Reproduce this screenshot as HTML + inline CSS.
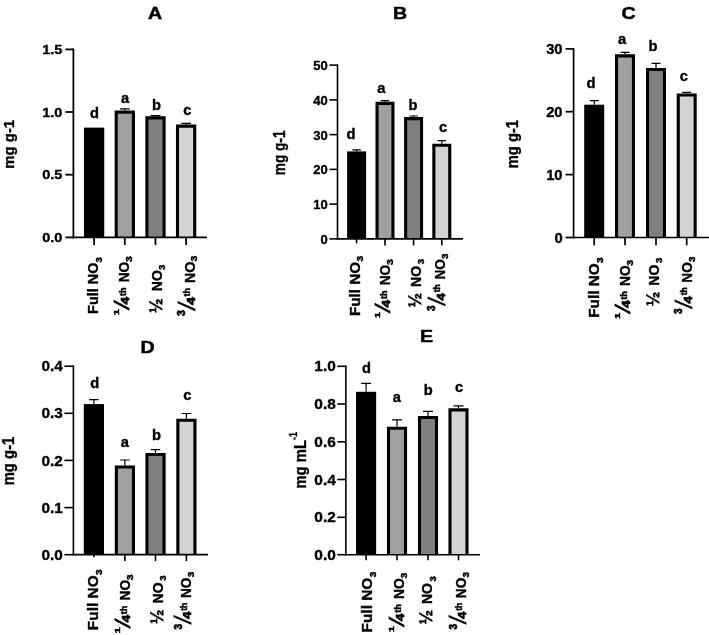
<!DOCTYPE html>
<html lang="en">
<head>
<meta charset="utf-8">
<title>Figure: NO3 treatments A-E</title>
<style>
html,body{margin:0;padding:0;background:#fff;}
body{width:709px;height:635px;overflow:hidden;}
svg{display:block;}
svg text{font-family:"Liberation Sans", Arial, Helvetica, sans-serif;font-weight:700;fill:#000;stroke:#000;stroke-width:0.35px;}
svg text.t{stroke-width:0.5px;}
svg text.s{stroke-width:0.45px;}
svg text.m{stroke-width:0.7px;}
svg text.f{stroke-width:0.85px;}
</style>
</head>
<body>
<svg width="709" height="635" viewBox="0 0 709 635">
<rect x="-20" y="-20" width="760" height="690" fill="#ffffff"/>
<g>
<rect x="83.95" y="127.60" width="20.30" height="109.80" fill="#000"/>
<text transform="translate(94.60 117.90) scale(1.050 1)" font-size="14" text-anchor="middle">d</text>
<line x1="94.10" y1="237.40" x2="94.10" y2="245.00" stroke="#000" stroke-width="1.8"/>
<path d="M124.80 110.60V108.80M119.90 108.80H129.70" stroke="#000" stroke-width="1.2" fill="none"/>
<rect x="116.20" y="112.15" width="17.20" height="125.25" fill="#a0a0a0"/>
<path d="M116.20 237.40V112.15H133.40V237.40" fill="none" stroke="#000" stroke-width="3.1"/>
<text transform="translate(125.00 103.20) scale(1.050 1)" font-size="14" text-anchor="middle">a</text>
<line x1="124.80" y1="237.40" x2="124.80" y2="245.00" stroke="#000" stroke-width="1.8"/>
<path d="M155.50 116.30V115.70M150.60 115.70H160.40" stroke="#000" stroke-width="1.2" fill="none"/>
<rect x="146.90" y="117.85" width="17.20" height="119.55" fill="#808080"/>
<path d="M146.90 237.40V117.85H164.10V237.40" fill="none" stroke="#000" stroke-width="3.1"/>
<text transform="translate(156.60 110.20) scale(1.050 1)" font-size="14" text-anchor="middle">b</text>
<line x1="155.50" y1="237.40" x2="155.50" y2="245.00" stroke="#000" stroke-width="1.8"/>
<path d="M186.10 124.60V123.30M181.20 123.30H191.00" stroke="#000" stroke-width="1.2" fill="none"/>
<rect x="177.50" y="126.15" width="17.20" height="111.25" fill="#d3d3d3"/>
<path d="M177.50 237.40V126.15H194.70V237.40" fill="none" stroke="#000" stroke-width="3.1"/>
<text transform="translate(187.40 114.70) scale(1.050 1)" font-size="14" text-anchor="middle">c</text>
<line x1="186.10" y1="237.40" x2="186.10" y2="245.00" stroke="#000" stroke-width="1.8"/>
<line x1="73.40" y1="48.50" x2="73.40" y2="238.30" stroke="#000" stroke-width="1.8"/>
<line x1="72.50" y1="237.40" x2="207.00" y2="237.40" stroke="#000" stroke-width="1.8"/>
<line x1="65.40" y1="237.40" x2="73.40" y2="237.40" stroke="#000" stroke-width="1.8"/>
<text transform="translate(62.40 242.08) scale(1.120 1)" font-size="13" text-anchor="end">0.0</text>
<line x1="65.40" y1="174.70" x2="73.40" y2="174.70" stroke="#000" stroke-width="1.8"/>
<text transform="translate(62.40 179.38) scale(1.120 1)" font-size="13" text-anchor="end">0.5</text>
<line x1="65.40" y1="112.00" x2="73.40" y2="112.00" stroke="#000" stroke-width="1.8"/>
<text transform="translate(62.40 116.68) scale(1.120 1)" font-size="13" text-anchor="end">1.0</text>
<line x1="65.40" y1="49.40" x2="73.40" y2="49.40" stroke="#000" stroke-width="1.8"/>
<text transform="translate(62.40 54.08) scale(1.120 1)" font-size="13" text-anchor="end">1.5</text>
<text transform="translate(155.00 19.00) scale(1.150 1)" font-size="17" text-anchor="middle" class="t">A</text>
<text transform="translate(13.50 144.30) rotate(-90) scale(1.010 1.000)" font-size="14.8" text-anchor="middle">mg g-1</text>
<g transform="translate(98.20 312.90) rotate(-90) scale(1.000 1.000)"><text transform="translate(-1.00 0.00) scale(1.030 1)" font-size="14">Full NO</text><text transform="translate(50.50 3.40) scale(1.050 1)" font-size="9" class="s">3</text></g>
<g transform="translate(128.70 315.00) rotate(-90) scale(1.000 1.000)"><text transform="translate(-0.30 -10.20) scale(1.400 1)" font-size="8" class="s">1</text><text transform="translate(8.30 0.00) scale(0.850 1)" font-size="21.5" class="f">&#8260;</text><text transform="translate(10.60 0.00) scale(1.300 1)" font-size="10.5" class="m">4</text><text transform="translate(19.00 -2.60) scale(1.080 1)" font-size="8.5" class="s">th </text><text transform="translate(32.70 0.00) scale(0.980 1)" font-size="14">NO</text><text transform="translate(53.00 3.40) scale(1.150 1)" font-size="9" class="s">3</text></g>
<g transform="translate(161.50 312.30) rotate(-90) scale(1.000 1.000)"><text transform="translate(-0.80 0.00) scale(1.000 1)" font-size="17.5">&#189; </text><text transform="translate(21.10 0.00) scale(1.000 1)" font-size="14">NO</text><text transform="translate(42.40 3.10) scale(1.050 1)" font-size="9" class="s">3</text></g>
<g transform="translate(194.50 315.60) rotate(-90) scale(1.000 1.000)"><text transform="translate(-0.40 -9.20) scale(1.000 1)" font-size="10.5" class="m">3</text><text transform="translate(8.20 0.00) scale(0.720 1)" font-size="23.8" class="f">&#8260;</text><text transform="translate(10.60 0.00) scale(1.300 1)" font-size="10.8" class="m">4</text><text transform="translate(19.20 -4.20) scale(1.050 1)" font-size="8.5" class="s">th </text><text transform="translate(32.60 0.00) scale(1.020 1)" font-size="14">NO</text><text transform="translate(54.20 2.90) scale(1.150 1)" font-size="9" class="s">3</text></g>
<path d="M356.60 151.40V149.80M352.35 149.80H360.85" stroke="#000" stroke-width="1.2" fill="none"/>
<rect x="347.10" y="151.40" width="19.00" height="87.50" fill="#000"/>
<text transform="translate(350.90 139.00) scale(1.050 1)" font-size="14" text-anchor="middle">d</text>
<line x1="356.60" y1="238.90" x2="356.60" y2="243.40" stroke="#000" stroke-width="1.6"/>
<path d="M385.00 101.80V100.70M380.75 100.70H389.25" stroke="#000" stroke-width="1.2" fill="none"/>
<rect x="377.05" y="103.35" width="15.90" height="135.55" fill="#a0a0a0"/>
<path d="M377.05 238.90V103.35H392.95V238.90" fill="none" stroke="#000" stroke-width="3.1"/>
<text transform="translate(381.40 93.20) scale(1.050 1)" font-size="14" text-anchor="middle">a</text>
<line x1="385.00" y1="238.90" x2="385.00" y2="245.40" stroke="#000" stroke-width="1.6"/>
<path d="M413.60 117.10V116.00M409.35 116.00H417.85" stroke="#000" stroke-width="1.2" fill="none"/>
<rect x="405.65" y="118.65" width="15.90" height="120.25" fill="#808080"/>
<path d="M405.65 238.90V118.65H421.55V238.90" fill="none" stroke="#000" stroke-width="3.1"/>
<text transform="translate(413.00 110.20) scale(1.050 1)" font-size="14" text-anchor="middle">b</text>
<line x1="413.60" y1="238.90" x2="413.60" y2="245.40" stroke="#000" stroke-width="1.6"/>
<path d="M441.80 143.70V140.70M437.55 140.70H446.05" stroke="#000" stroke-width="1.2" fill="none"/>
<rect x="433.85" y="145.25" width="15.90" height="93.65" fill="#d3d3d3"/>
<path d="M433.85 238.90V145.25H449.75V238.90" fill="none" stroke="#000" stroke-width="3.1"/>
<text transform="translate(443.20 132.20) scale(1.050 1)" font-size="14" text-anchor="middle">c</text>
<line x1="441.80" y1="238.90" x2="441.80" y2="245.40" stroke="#000" stroke-width="1.6"/>
<line x1="337.50" y1="64.30" x2="337.50" y2="239.70" stroke="#000" stroke-width="1.6"/>
<line x1="336.70" y1="238.90" x2="463.00" y2="238.90" stroke="#000" stroke-width="1.6"/>
<line x1="329.50" y1="238.90" x2="337.50" y2="238.90" stroke="#000" stroke-width="1.6"/>
<text transform="translate(327.70 243.88) scale(1.000 1)" font-size="13" text-anchor="end">0</text>
<line x1="329.50" y1="204.10" x2="337.50" y2="204.10" stroke="#000" stroke-width="1.6"/>
<text transform="translate(327.70 209.08) scale(1.000 1)" font-size="13" text-anchor="end">10</text>
<line x1="329.50" y1="169.40" x2="337.50" y2="169.40" stroke="#000" stroke-width="1.6"/>
<text transform="translate(327.70 174.38) scale(1.000 1)" font-size="13" text-anchor="end">20</text>
<line x1="329.50" y1="134.60" x2="337.50" y2="134.60" stroke="#000" stroke-width="1.6"/>
<text transform="translate(327.70 139.58) scale(1.000 1)" font-size="13" text-anchor="end">30</text>
<line x1="329.50" y1="99.90" x2="337.50" y2="99.90" stroke="#000" stroke-width="1.6"/>
<text transform="translate(327.70 104.88) scale(1.000 1)" font-size="13" text-anchor="end">40</text>
<line x1="329.50" y1="65.10" x2="337.50" y2="65.10" stroke="#000" stroke-width="1.6"/>
<text transform="translate(327.70 70.08) scale(1.000 1)" font-size="13" text-anchor="end">50</text>
<text transform="translate(400.00 19.30) scale(1.150 1)" font-size="17" text-anchor="middle" class="t">B</text>
<text transform="translate(285.30 152.85) rotate(-90) scale(0.830 1.000)" font-size="16.4" text-anchor="middle">mg g-1</text>
<g transform="translate(359.50 314.90) rotate(-90) scale(1.055 1.055)"><text transform="translate(-1.00 0.00) scale(1.030 1)" font-size="14">Full NO</text><text transform="translate(50.50 3.40) scale(1.050 1)" font-size="9" class="s">3</text></g>
<g transform="translate(389.70 318.00) rotate(-90) scale(1.000 1.000)"><text transform="translate(-0.30 -10.20) scale(1.400 1)" font-size="8" class="s">1</text><text transform="translate(8.30 0.00) scale(0.850 1)" font-size="21.5" class="f">&#8260;</text><text transform="translate(10.60 0.00) scale(1.300 1)" font-size="10.5" class="m">4</text><text transform="translate(19.00 -2.60) scale(1.080 1)" font-size="8.5" class="s">th </text><text transform="translate(32.70 0.00) scale(0.980 1)" font-size="14">NO</text><text transform="translate(53.00 3.40) scale(1.150 1)" font-size="9" class="s">3</text></g>
<g transform="translate(420.80 306.70) rotate(-90) scale(1.000 1.000)"><text transform="translate(-0.80 0.00) scale(1.000 1)" font-size="17.5">&#189; </text><text transform="translate(19.80 0.00) scale(1.000 1)" font-size="14">NO</text><text transform="translate(42.40 3.10) scale(1.050 1)" font-size="9" class="s">3</text></g>
<g transform="translate(444.70 310.50) rotate(-90) scale(0.950 1.030)"><text transform="translate(-0.40 -9.20) scale(1.000 1)" font-size="10.5" class="m">3</text><text transform="translate(8.20 0.00) scale(0.720 1)" font-size="23.8" class="f">&#8260;</text><text transform="translate(10.60 0.00) scale(1.300 1)" font-size="10.8" class="m">4</text><text transform="translate(19.20 -4.20) scale(1.050 1)" font-size="8.5" class="s">th </text><text transform="translate(32.60 0.00) scale(1.020 1)" font-size="14">NO</text><text transform="translate(54.20 2.90) scale(1.150 1)" font-size="9" class="s">3</text></g>
<path d="M594.20 104.70V100.70M589.70 100.70H598.70" stroke="#000" stroke-width="1.2" fill="none"/>
<rect x="584.20" y="104.70" width="20.00" height="132.80" fill="#000"/>
<text transform="translate(591.10 87.90) scale(1.050 1)" font-size="14" text-anchor="middle">d</text>
<line x1="594.20" y1="237.50" x2="594.20" y2="245.30" stroke="#000" stroke-width="1.7"/>
<path d="M625.00 54.30V52.30M620.50 52.30H629.50" stroke="#000" stroke-width="1.2" fill="none"/>
<rect x="616.55" y="55.85" width="16.90" height="181.65" fill="#a0a0a0"/>
<path d="M616.55 237.50V55.85H633.45V237.50" fill="none" stroke="#000" stroke-width="3.1"/>
<text transform="translate(622.10 44.40) scale(1.050 1)" font-size="14" text-anchor="middle">a</text>
<line x1="625.00" y1="237.50" x2="625.00" y2="245.30" stroke="#000" stroke-width="1.7"/>
<path d="M656.00 67.90V63.40M651.50 63.40H660.50" stroke="#000" stroke-width="1.2" fill="none"/>
<rect x="647.55" y="69.45" width="16.90" height="168.05" fill="#808080"/>
<path d="M647.55 237.50V69.45H664.45V237.50" fill="none" stroke="#000" stroke-width="3.1"/>
<text transform="translate(653.00 51.40) scale(1.050 1)" font-size="14" text-anchor="middle">b</text>
<line x1="656.00" y1="237.50" x2="656.00" y2="245.30" stroke="#000" stroke-width="1.7"/>
<path d="M686.70 93.50V92.40M682.20 92.40H691.20" stroke="#000" stroke-width="1.2" fill="none"/>
<rect x="678.25" y="95.05" width="16.90" height="142.45" fill="#d3d3d3"/>
<path d="M678.25 237.50V95.05H695.15V237.50" fill="none" stroke="#000" stroke-width="3.1"/>
<text transform="translate(683.80 80.70) scale(1.050 1)" font-size="14" text-anchor="middle">c</text>
<line x1="686.70" y1="237.50" x2="686.70" y2="245.30" stroke="#000" stroke-width="1.7"/>
<line x1="573.60" y1="48.05" x2="573.60" y2="238.35" stroke="#000" stroke-width="1.7"/>
<line x1="572.75" y1="237.50" x2="716.00" y2="237.50" stroke="#000" stroke-width="1.7"/>
<line x1="565.60" y1="237.50" x2="573.60" y2="237.50" stroke="#000" stroke-width="1.7"/>
<text transform="translate(562.60 242.72) scale(1.020 1)" font-size="14.5" text-anchor="end">0</text>
<line x1="565.60" y1="174.60" x2="573.60" y2="174.60" stroke="#000" stroke-width="1.7"/>
<text transform="translate(562.60 179.82) scale(1.020 1)" font-size="14.5" text-anchor="end">10</text>
<line x1="565.60" y1="111.70" x2="573.60" y2="111.70" stroke="#000" stroke-width="1.7"/>
<text transform="translate(562.60 116.92) scale(1.020 1)" font-size="14.5" text-anchor="end">20</text>
<line x1="565.60" y1="48.90" x2="573.60" y2="48.90" stroke="#000" stroke-width="1.7"/>
<text transform="translate(562.60 54.12) scale(1.020 1)" font-size="14.5" text-anchor="end">30</text>
<text transform="translate(628.50 19.00) scale(1.150 1)" font-size="17" text-anchor="middle" class="t">C</text>
<text transform="translate(517.80 144.10) rotate(-90) scale(0.900 1.000)" font-size="16.4" text-anchor="middle">mg g-1</text>
<g transform="translate(598.90 316.80) rotate(-90) scale(1.065 1.065)"><text transform="translate(-1.00 0.00) scale(1.030 1)" font-size="14">Full NO</text><text transform="translate(50.50 3.40) scale(1.050 1)" font-size="9" class="s">3</text></g>
<g transform="translate(629.70 318.70) rotate(-90) scale(1.000 1.000)"><text transform="translate(-0.30 -10.20) scale(1.400 1)" font-size="8" class="s">1</text><text transform="translate(8.30 0.00) scale(0.850 1)" font-size="21.5" class="f">&#8260;</text><text transform="translate(10.60 0.00) scale(1.300 1)" font-size="10.5" class="m">4</text><text transform="translate(19.00 -2.60) scale(1.080 1)" font-size="8.5" class="s">th </text><text transform="translate(32.70 0.00) scale(0.980 1)" font-size="14">NO</text><text transform="translate(53.00 3.40) scale(1.150 1)" font-size="9" class="s">3</text></g>
<g transform="translate(658.90 305.50) rotate(-90) scale(1.000 1.000)"><text transform="translate(-0.80 0.00) scale(1.000 1)" font-size="17.5">&#189; </text><text transform="translate(19.80 0.00) scale(1.000 1)" font-size="14">NO</text><text transform="translate(42.40 3.10) scale(1.050 1)" font-size="9" class="s">3</text></g>
<g transform="translate(691.60 313.60) rotate(-90) scale(0.950 1.030)"><text transform="translate(-0.40 -9.20) scale(1.000 1)" font-size="10.5" class="m">3</text><text transform="translate(8.20 0.00) scale(0.720 1)" font-size="23.8" class="f">&#8260;</text><text transform="translate(10.60 0.00) scale(1.300 1)" font-size="10.8" class="m">4</text><text transform="translate(19.20 -4.20) scale(1.050 1)" font-size="8.5" class="s">th </text><text transform="translate(32.60 0.00) scale(1.020 1)" font-size="14">NO</text><text transform="translate(54.20 2.90) scale(1.150 1)" font-size="9" class="s">3</text></g>
<path d="M93.90 404.10V399.60M89.15 399.60H98.65" stroke="#000" stroke-width="1.2" fill="none"/>
<rect x="83.80" y="404.10" width="20.20" height="150.50" fill="#000"/>
<text transform="translate(94.70 387.80) scale(1.050 1)" font-size="14" text-anchor="middle">d</text>
<line x1="93.90" y1="554.60" x2="93.90" y2="557.20" stroke="#000" stroke-width="1.6"/>
<path d="M124.90 465.40V460.00M120.15 460.00H129.65" stroke="#000" stroke-width="1.2" fill="none"/>
<rect x="116.35" y="466.95" width="17.10" height="87.65" fill="#a0a0a0"/>
<path d="M116.35 554.60V466.95H133.45V554.60" fill="none" stroke="#000" stroke-width="3.1"/>
<text transform="translate(124.90 446.50) scale(1.050 1)" font-size="14" text-anchor="middle">a</text>
<line x1="124.90" y1="554.60" x2="124.90" y2="561.10" stroke="#000" stroke-width="1.6"/>
<path d="M155.50 453.00V449.60M150.75 449.60H160.25" stroke="#000" stroke-width="1.2" fill="none"/>
<rect x="146.95" y="454.55" width="17.10" height="100.05" fill="#808080"/>
<path d="M146.95 554.60V454.55H164.05V554.60" fill="none" stroke="#000" stroke-width="3.1"/>
<text transform="translate(156.60 439.50) scale(1.050 1)" font-size="14" text-anchor="middle">b</text>
<line x1="155.50" y1="554.60" x2="155.50" y2="561.10" stroke="#000" stroke-width="1.6"/>
<path d="M186.40 418.70V413.50M181.65 413.50H191.15" stroke="#000" stroke-width="1.2" fill="none"/>
<rect x="177.85" y="420.25" width="17.10" height="134.35" fill="#d3d3d3"/>
<path d="M177.85 554.60V420.25H194.95V554.60" fill="none" stroke="#000" stroke-width="3.1"/>
<text transform="translate(187.30 400.30) scale(1.050 1)" font-size="14" text-anchor="middle">c</text>
<line x1="186.40" y1="554.60" x2="186.40" y2="561.10" stroke="#000" stroke-width="1.6"/>
<line x1="73.40" y1="365.40" x2="73.40" y2="555.40" stroke="#000" stroke-width="1.6"/>
<line x1="72.60" y1="554.60" x2="208.00" y2="554.60" stroke="#000" stroke-width="1.6"/>
<line x1="64.40" y1="554.70" x2="73.40" y2="554.70" stroke="#000" stroke-width="1.6"/>
<text transform="translate(62.90 559.81) scale(1.080 1)" font-size="14.2" text-anchor="end">0.0</text>
<line x1="64.40" y1="507.60" x2="73.40" y2="507.60" stroke="#000" stroke-width="1.6"/>
<text transform="translate(62.90 512.71) scale(1.080 1)" font-size="14.2" text-anchor="end">0.1</text>
<line x1="64.40" y1="460.40" x2="73.40" y2="460.40" stroke="#000" stroke-width="1.6"/>
<text transform="translate(62.90 465.51) scale(1.080 1)" font-size="14.2" text-anchor="end">0.2</text>
<line x1="64.40" y1="413.30" x2="73.40" y2="413.30" stroke="#000" stroke-width="1.6"/>
<text transform="translate(62.90 418.41) scale(1.080 1)" font-size="14.2" text-anchor="end">0.3</text>
<line x1="64.40" y1="366.20" x2="73.40" y2="366.20" stroke="#000" stroke-width="1.6"/>
<text transform="translate(62.90 371.31) scale(1.080 1)" font-size="14.2" text-anchor="end">0.4</text>
<text transform="translate(147.50 352.60) scale(1.150 1)" font-size="17" text-anchor="middle" class="t">D</text>
<text transform="translate(13.60 461.00) rotate(-90) scale(0.890 1.000)" font-size="16.7" text-anchor="middle">mg g-1</text>
<g transform="translate(98.00 629.10) rotate(-90) scale(1.070 1.070)"><text transform="translate(-1.00 0.00) scale(1.030 1)" font-size="14">Full NO</text><text transform="translate(50.50 3.40) scale(1.050 1)" font-size="9" class="s">3</text></g>
<g transform="translate(129.90 633.20) rotate(-90) scale(1.000 1.000)"><text transform="translate(-0.30 -10.20) scale(1.400 1)" font-size="8" class="s">1</text><text transform="translate(8.30 0.00) scale(0.850 1)" font-size="21.5" class="f">&#8260;</text><text transform="translate(10.60 0.00) scale(1.300 1)" font-size="10.5" class="m">4</text><text transform="translate(19.00 -2.60) scale(1.080 1)" font-size="8.5" class="s">th </text><text transform="translate(32.70 0.00) scale(0.980 1)" font-size="14">NO</text><text transform="translate(53.00 3.40) scale(1.150 1)" font-size="9" class="s">3</text></g>
<g transform="translate(163.00 623.20) rotate(-90) scale(1.000 1.000)"><text transform="translate(-0.80 0.00) scale(1.000 1)" font-size="17.5">&#189; </text><text transform="translate(19.80 0.00) scale(1.000 1)" font-size="14">NO</text><text transform="translate(42.40 3.10) scale(1.050 1)" font-size="9" class="s">3</text></g>
<g transform="translate(191.40 629.10) rotate(-90) scale(0.955 1.030)"><text transform="translate(-0.40 -9.20) scale(1.000 1)" font-size="10.5" class="m">3</text><text transform="translate(8.20 0.00) scale(0.720 1)" font-size="23.8" class="f">&#8260;</text><text transform="translate(10.60 0.00) scale(1.300 1)" font-size="10.8" class="m">4</text><text transform="translate(19.20 -4.20) scale(1.050 1)" font-size="8.5" class="s">th </text><text transform="translate(32.60 0.00) scale(1.020 1)" font-size="14">NO</text><text transform="translate(54.20 2.90) scale(1.150 1)" font-size="9" class="s">3</text></g>
<path d="M366.10 391.80V383.40M361.10 383.40H371.10" stroke="#000" stroke-width="1.2" fill="none"/>
<rect x="356.05" y="391.80" width="20.10" height="162.90" fill="#000"/>
<text transform="translate(366.50 372.60) scale(1.050 1)" font-size="14" text-anchor="middle">d</text>
<line x1="366.10" y1="554.70" x2="366.10" y2="560.30" stroke="#000" stroke-width="1.6"/>
<path d="M397.00 426.70V419.90M392.00 419.90H402.00" stroke="#000" stroke-width="1.2" fill="none"/>
<rect x="388.50" y="428.25" width="17.00" height="126.45" fill="#a0a0a0"/>
<path d="M388.50 554.70V428.25H405.50V554.70" fill="none" stroke="#000" stroke-width="3.1"/>
<text transform="translate(396.90 402.40) scale(1.050 1)" font-size="14" text-anchor="middle">a</text>
<line x1="397.00" y1="554.70" x2="397.00" y2="560.30" stroke="#000" stroke-width="1.6"/>
<path d="M428.00 415.90V411.40M423.00 411.40H433.00" stroke="#000" stroke-width="1.2" fill="none"/>
<rect x="419.50" y="417.45" width="17.00" height="137.25" fill="#808080"/>
<path d="M419.50 554.70V417.45H436.50V554.70" fill="none" stroke="#000" stroke-width="3.1"/>
<text transform="translate(428.30 394.70) scale(1.050 1)" font-size="14" text-anchor="middle">b</text>
<line x1="428.00" y1="554.70" x2="428.00" y2="560.30" stroke="#000" stroke-width="1.6"/>
<path d="M458.50 408.30V405.80M453.50 405.80H463.50" stroke="#000" stroke-width="1.2" fill="none"/>
<rect x="450.00" y="409.85" width="17.00" height="144.85" fill="#d3d3d3"/>
<path d="M450.00 554.70V409.85H467.00V554.70" fill="none" stroke="#000" stroke-width="3.1"/>
<text transform="translate(459.20 392.20) scale(1.050 1)" font-size="14" text-anchor="middle">c</text>
<line x1="458.50" y1="554.70" x2="458.50" y2="560.30" stroke="#000" stroke-width="1.6"/>
<line x1="345.90" y1="365.50" x2="345.90" y2="555.50" stroke="#000" stroke-width="1.6"/>
<line x1="345.10" y1="554.70" x2="480.00" y2="554.70" stroke="#000" stroke-width="1.6"/>
<line x1="337.30" y1="554.70" x2="345.90" y2="554.70" stroke="#000" stroke-width="1.6"/>
<text transform="translate(335.80 559.70) scale(1.030 1)" font-size="15" text-anchor="end">0.0</text>
<line x1="337.30" y1="517.30" x2="345.90" y2="517.30" stroke="#000" stroke-width="1.6"/>
<text transform="translate(335.80 522.30) scale(1.030 1)" font-size="15" text-anchor="end">0.2</text>
<line x1="337.30" y1="479.50" x2="345.90" y2="479.50" stroke="#000" stroke-width="1.6"/>
<text transform="translate(335.80 484.50) scale(1.030 1)" font-size="15" text-anchor="end">0.4</text>
<line x1="337.30" y1="441.80" x2="345.90" y2="441.80" stroke="#000" stroke-width="1.6"/>
<text transform="translate(335.80 446.80) scale(1.030 1)" font-size="15" text-anchor="end">0.6</text>
<line x1="337.30" y1="404.00" x2="345.90" y2="404.00" stroke="#000" stroke-width="1.6"/>
<text transform="translate(335.80 409.00) scale(1.030 1)" font-size="15" text-anchor="end">0.8</text>
<line x1="337.30" y1="366.30" x2="345.90" y2="366.30" stroke="#000" stroke-width="1.6"/>
<text transform="translate(335.80 371.30) scale(1.030 1)" font-size="15" text-anchor="end">1.0</text>
<text transform="translate(426.50 341.80) scale(1.150 1)" font-size="17" text-anchor="middle" class="t">E</text>
<text transform="translate(305.50 460.30) rotate(-90) scale(0.900 1.000)" font-size="16.5" text-anchor="middle">mg mL<tspan font-size="10" dy="-8.8">-1</tspan></text>
<g transform="translate(372.20 631.40) rotate(-90) scale(1.070 1.070)"><text transform="translate(-1.00 0.00) scale(1.030 1)" font-size="14">Full NO</text><text transform="translate(50.50 3.40) scale(1.050 1)" font-size="9" class="s">3</text></g>
<g transform="translate(404.00 632.00) rotate(-90) scale(1.010 1.010)"><text transform="translate(-0.30 -10.20) scale(1.400 1)" font-size="8" class="s">1</text><text transform="translate(8.30 0.00) scale(0.850 1)" font-size="21.5" class="f">&#8260;</text><text transform="translate(10.60 0.00) scale(1.300 1)" font-size="10.5" class="m">4</text><text transform="translate(19.00 -2.60) scale(1.080 1)" font-size="8.5" class="s">th </text><text transform="translate(32.70 0.00) scale(0.980 1)" font-size="14">NO</text><text transform="translate(53.00 3.40) scale(1.150 1)" font-size="9" class="s">3</text></g>
<g transform="translate(432.40 623.80) rotate(-90) scale(1.000 1.000)"><text transform="translate(-0.80 0.00) scale(1.000 1)" font-size="17.5">&#189; </text><text transform="translate(19.80 0.00) scale(1.000 1)" font-size="14">NO</text><text transform="translate(42.40 3.10) scale(1.050 1)" font-size="9" class="s">3</text></g>
<g transform="translate(466.10 629.10) rotate(-90) scale(0.950 1.030)"><text transform="translate(-0.40 -9.20) scale(1.000 1)" font-size="10.5" class="m">3</text><text transform="translate(8.20 0.00) scale(0.720 1)" font-size="23.8" class="f">&#8260;</text><text transform="translate(10.60 0.00) scale(1.300 1)" font-size="10.8" class="m">4</text><text transform="translate(19.20 -4.20) scale(1.050 1)" font-size="8.5" class="s">th </text><text transform="translate(32.60 0.00) scale(1.020 1)" font-size="14">NO</text><text transform="translate(54.20 2.90) scale(1.150 1)" font-size="9" class="s">3</text></g>
</g>
</svg>
</body>
</html>
